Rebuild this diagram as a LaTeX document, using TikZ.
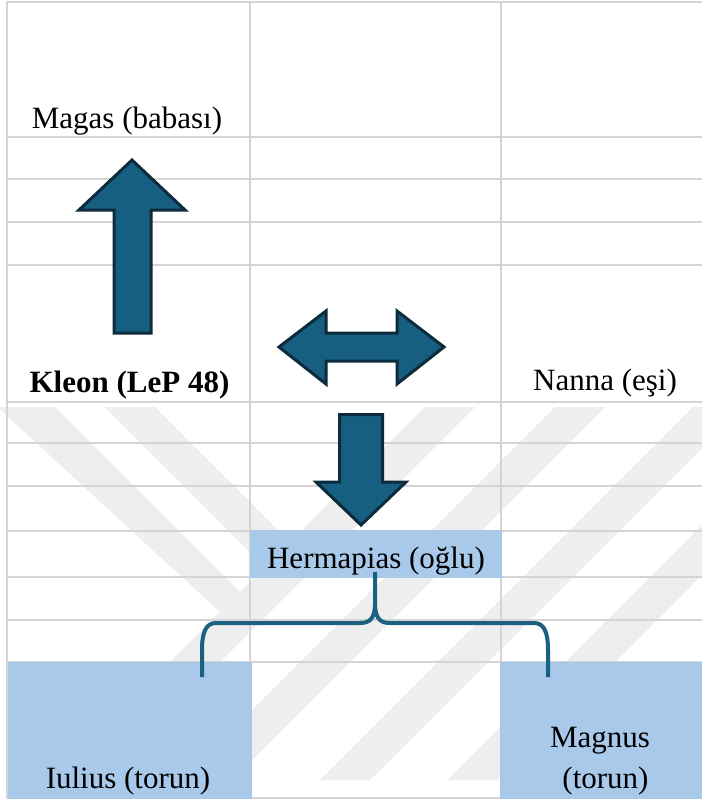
\documentclass[tikz,border=0pt]{standalone}
\usepackage{fontspec}
\setmainfont{Liberation Serif}
\definecolor{gridc}{HTML}{D4D4D4}
\definecolor{cellblue}{RGB}{169,201,235}
\definecolor{arrowfill}{HTML}{175F81}
\definecolor{arrowline}{HTML}{0C2B3C}
\definecolor{bracec}{HTML}{1B5F81}
\definecolor{wmark}{HTML}{EEEEEE}
\tikzset{
  gridline/.style={draw=gridc, line width=2.5pt},
  bluecell/.style={fill=cellblue, draw=none},
  lbl/.style={inner sep=0pt, anchor=base, font=\fontsize{31}{41}\selectfont},
  blockarrow/.style={fill=arrowfill, draw=arrowline, line width=3pt, line join=miter},
  bracestyle/.style={draw=bracec, line width=4pt, line cap=butt, line join=round},
  wm/.style={fill=wmark, draw=none}
}
\begin{document}
\begin{tikzpicture}[x=1pt, y=-1pt]
\useasboundingbox (0,0) rectangle (702,803);
\fill[white] (0,0) rectangle (702,803);
% watermark
\begin{scope}
\clip (0,407) rectangle (702,798);
% descending bands
\fill[wm] (-5,405) -- (53,405) -- (240,592) -- (220,612) -- cycle;
\fill[wm] (103,405) -- (153,405) -- (310,562) -- (285,587) -- cycle;
% rising bands
\foreach \b in {52,182,320,447}
  \fill[wm] (\b,780) -- (\b+50,780) -- (\b+425,405) -- (\b+375,405) -- cycle;
\end{scope}
% grid
\foreach \y in {2,137,179,222,265,402,443,486,531,577,620,662,798}
  \draw[gridline] (6,\y) -- (702,\y);
\foreach \x in {7,250,501}
  \draw[gridline] (\x,1) -- (\x,799);
% blue cells
\fill[bluecell] (250,530) rectangle (502,578);
\fill[bluecell] (8,662) rectangle (252,799);
\fill[bluecell] (500,662) rectangle (702,799);
% texts
\node[lbl] (magas) at (127,128) {Magas (babası)};
\node[lbl] (kleon) at (129.5,392) {\textbf{Kleon (LeP 48)}};
\node[lbl] (nanna) at (605,390) {Nanna (eşi)};
\node[lbl] (herm) at (376,568) {Hermapias (oğlu)};
\node[lbl] (iulius) at (128,788) {Iulius (torun)};
\node[lbl] (magnus) at (600,747) {Magnus};
\node[lbl] (torun) at (605.5,788) {(torun)};
% block arrows
\draw[blockarrow] (132,160) -- (185,210) -- (151,210) -- (151,333) -- (114,333) -- (114,210) -- (79,210) -- cycle;
\draw[blockarrow] (279,347) -- (326,311) -- (326,333) -- (397,333) -- (397,311) -- (444,347) -- (397,384) -- (397,361) -- (326,361) -- (326,384) -- cycle;
\draw[blockarrow] (339.5,414.5) -- (382.5,414.5) -- (382.5,482) -- (406,482) -- (361,525) -- (316,482) -- (339.5,482) -- cycle;
% brace
\coordinate (tip) at (375,572);
\coordinate (lend) at (202,677);
\coordinate (rend) at (548,677);
\draw[bracestyle] (tip) -- (375,603) .. controls (375,617) and (371,623) .. (360,623) -- (216,623) .. controls (206,623) and (202,632) .. (202,650) -- (lend);
\draw[bracestyle] (375,603) .. controls (375,617) and (379,623) .. (390,623) -- (534,623) .. controls (544,623) and (548,632) .. (548,650) -- (rend);
\end{tikzpicture}
\end{document}
